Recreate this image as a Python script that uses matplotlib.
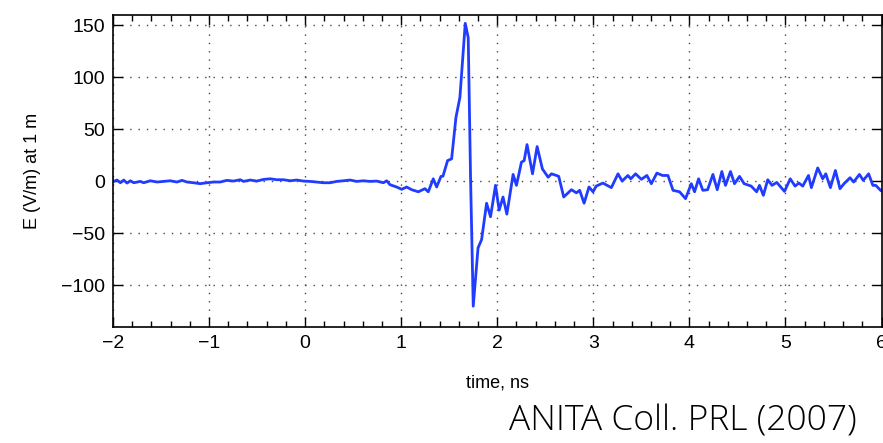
import matplotlib
matplotlib.use("Agg")
import matplotlib.pyplot as plt
from matplotlib.ticker import MultipleLocator

# time (ns) and field (V/m at 1 m)
time_ns = [
    -2.00, -1.992, -1.958, -1.923, -1.888, -1.854, -1.819, -1.784, -1.715, -1.681,
    -1.611, -1.542, -1.473, -1.404, -1.334, -1.282, -1.230, -1.161, -1.092, -1.022,
    -0.953, -0.884, -0.815, -0.745, -0.676, -0.641, -0.572, -0.503, -0.433, -0.364,
    -0.295, -0.225, -0.156, -0.087, -0.017, 0.052, 0.121, 0.191, 0.260, 0.329,
    0.399, 0.468, 0.537, 0.607, 0.676, 0.745, 0.815, 0.849, 0.884, 0.953,
    1.005, 1.057, 1.110, 1.178, 1.247, 1.282, 1.334, 1.369, 1.414, 1.435,
    1.483, 1.525, 1.570, 1.611, 1.667, 1.698, 1.722, 1.750, 1.778, 1.800,
    1.837, 1.889, 1.930, 1.982, 2.020, 2.060, 2.100, 2.165, 2.200, 2.252,
    2.280, 2.310, 2.367, 2.415, 2.470, 2.530, 2.564, 2.616, 2.640, 2.692,
    2.772, 2.824, 2.858, 2.904, 2.955, 2.997, 3.030, 3.100, 3.188, 3.257,
    3.300, 3.360, 3.390, 3.440, 3.500, 3.558, 3.604, 3.662, 3.720, 3.777,
    3.830, 3.898, 3.960, 4.020, 4.054, 4.096, 4.140, 4.190, 4.245, 4.290,
    4.338, 4.376, 4.428, 4.470, 4.522, 4.570, 4.643, 4.700, 4.730, 4.770,
    4.816, 4.860, 4.910, 4.990, 5.050, 5.100, 5.140, 5.180, 5.240, 5.270,
    5.336, 5.388, 5.420, 5.468, 5.520, 5.568, 5.610, 5.672, 5.710, 5.770,
    5.810, 5.866, 5.910, 5.940, 5.995, 6.000,
]
e_field = [
    0.5, 0.0, 1.3, -1.3, 1.3, -1.6, 0.6, -1.3, 0.0, -1.3,
    0.6, -0.6, 0.0, 0.6, -0.6, 1.0, -0.6, -1.3, -2.2, -1.3,
    -0.6, -0.6, 1.0, 0.3, 1.6, 0.0, 1.3, 0.3, 1.9, 2.5,
    1.6, 1.6, 0.6, 1.3, 0.3, 0.0, -0.6, -1.3, -1.3, 0.0,
    0.6, 1.3, 0.0, 0.6, 0.0, 0.3, -1.3, 0.6, -3.2, -5.4,
    -7.6, -5.4, -8.0, -10.0, -7.0, -10.0, 2.5, -5.4, 4.8, 5.0,
    20.0, 21.7, 61.5, 80.6, 152.0, 138.0, 4.0, -120.0, -88.0, -64.0,
    -56.0, -21.0, -34.0, -3.8, -27.7, -15.0, -31.5, 6.7, -3.8, 18.5,
    20.0, 35.4, 7.3, 33.5, 12.0, 4.0, 7.3, 5.7, 4.8, -15.0,
    -8.0, -11.0, -8.6, -21.0, -5.4, -10.0, -4.5, -1.6, -6.0, 7.3,
    0.3, 5.7, 2.5, 7.3, 2.0, 5.7, -2.2, 8.0, 5.7, 5.7,
    -8.6, -10.0, -16.6, -2.2, -10.0, 2.5, -8.6, -8.0, 6.7, -8.0,
    9.5, -3.8, 9.5, -2.2, 4.8, -2.2, -4.5, -10.0, -3.8, -13.4,
    1.6, -3.8, -1.0, -9.6, 2.5, -4.5, -1.6, -4.5, 5.7, -6.0,
    13.0, 2.5, 7.3, -6.0, 10.5, -7.0, -2.2, 3.5, -0.6, 6.7,
    1.0, 7.3, -3.8, -3.8, -9.0, -9.0,
]

x_ticks = [-2, -1, 0, 1, 2, 3, 4, 5, 6]
y_ticks = [-100, -50, 0, 50, 100, 150]

plt.rcParams['font.family'] = ['Liberation Sans', 'DejaVu Sans']

fig = plt.figure(figsize=(8.83, 4.43), dpi=100)
ax = fig.add_axes([113 / 883, 1 - 327 / 443, (881.5 - 113) / 883, (327 - 15) / 443])

ax.plot(time_ns, e_field, color='#1f3cff', lw=2.0, solid_joinstyle='round')

ax.set_xlim(-2, 6)
ax.set_ylim(-140, 160)
ax.set_xticks(x_ticks)
ax.set_yticks(y_ticks)
ax.set_xticklabels(['\u2212' + str(-v) if v < 0 else str(v) for v in x_ticks])
ax.set_yticklabels(['\u2212' + str(-v) if v < 0 else str(v) for v in y_ticks])
ax.xaxis.set_minor_locator(MultipleLocator(0.2))

ax.tick_params(which='both', direction='in', top=True, right=True, labelsize=14, width=1.0, colors='black')
ax.tick_params(which='major', length=7, pad=6)
ax.tick_params(which='minor', length=4)
for s in ax.spines.values():
    s.set_linewidth(1.2)

ax.grid(True, which='major', color='#444444', linestyle=(0, (1, 5)), linewidth=1.0)

ax.set_xlabel('time, ns', fontsize=13, labelpad=16)
ax.set_ylabel('E (V/m) at 1 m', fontsize=13, labelpad=14)

fig.text(0.970, 0.048, 'ANITA Coll. PRL (2007)', ha='right', va='center',
         fontsize=25.5, family=['Open Sans', 'DejaVu Sans'], fontweight='light', color='black')

fig.savefig('out.png', dpi=100)
